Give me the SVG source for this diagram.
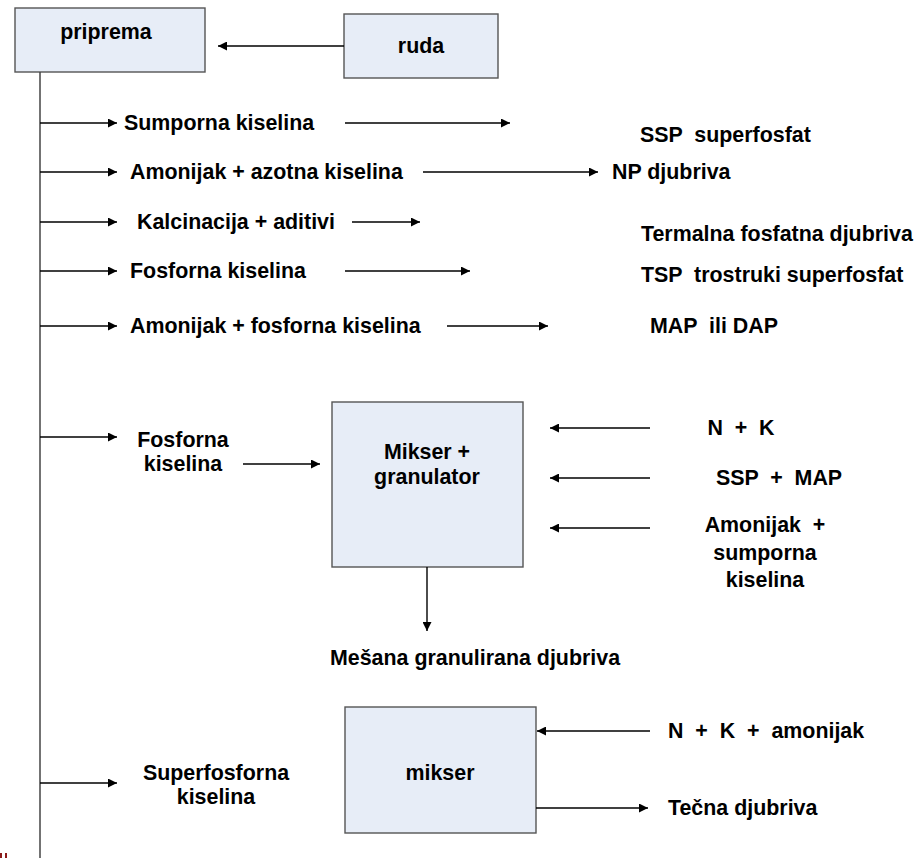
<svg xmlns="http://www.w3.org/2000/svg" width="918" height="858" viewBox="0 0 918 858">
<defs>
<style>
.box{fill:#E7EDF7;stroke:#555;stroke-width:1.4}
.t{font-family:"Liberation Sans",Arial,sans-serif;font-weight:bold;font-size:21.4px;fill:#000;white-space:pre}
.c{text-anchor:middle}
.ln{stroke:#000;stroke-width:1.4;fill:none;marker-end:url(#ah)}
.trunk{stroke:#444;stroke-width:1.5;fill:none}
</style>
<marker id="ah" viewBox="0 0 10 10" refX="10" refY="5" markerWidth="11" markerHeight="9" markerUnits="userSpaceOnUse" orient="auto">
<path d="M0,0 L10,5 L0,10 z" fill="#000"/>
</marker>
</defs>
<rect width="918" height="858" fill="#fff"/>

<g id="priprema"><rect class="box" x="15" y="8" width="190" height="64"/><text class="t c" x="106" y="39">priprema</text></g>
<g id="ruda"><rect class="box" x="344" y="14" width="154" height="64"/><text class="t c" x="421" y="53">ruda</text></g>
<g id="mikser-granulator"><rect class="box" x="332" y="402" width="191" height="165"/><text class="t c" x="427" y="459">Mikser +</text><text class="t c" x="427" y="484">granulator</text></g>
<g id="mikser"><rect class="box" x="345" y="707" width="191" height="126"/><text class="t c" x="440" y="780">mikser</text></g>

<g id="labels">
<text class="t" x="124" y="130">Sumporna kiselina</text>
<text class="t" x="130" y="179">Amonijak + azotna kiselina</text>
<text class="t" x="137" y="229">Kalcinacija + aditivi</text>
<text class="t" x="130" y="278">Fosforna kiselina</text>
<text class="t" x="130" y="333">Amonijak + fosforna kiselina</text>
<text class="t" x="640" y="142">SSP  superfosfat</text>
<text class="t" x="612" y="179">NP djubriva</text>
<text class="t" x="641" y="241">Termalna fosfatna djubriva</text>
<text class="t" x="641" y="282">TSP  trostruki superfosfat</text>
<text class="t" x="650" y="333">MAP  ili DAP</text>
<text class="t c" x="183" y="447">Fosforna</text>
<text class="t c" x="183" y="471">kiselina</text>
<text class="t c" x="741" y="435">N  +  K</text>
<text class="t c" x="779" y="485">SSP  +  MAP</text>
<text class="t c" x="765" y="532">Amonijak  +</text>
<text class="t c" x="765" y="560">sumporna</text>
<text class="t c" x="765" y="587">kiselina</text>
<text class="t" x="330" y="665">Mešana granulirana djubriva</text>
<text class="t" x="668" y="738">N  +  K  +  amonijak</text>
<text class="t" x="668" y="815">Tečna djubriva</text>
<text class="t c" x="216" y="780">Superfosforna</text>
<text class="t c" x="216" y="804">kiselina</text>
</g>

<g id="connectors">
<path class="trunk" d="M40,72 V858"/>
<path class="ln" d="M344,46 H218"/>
<path class="ln" d="M40,123 H117"/>
<path class="ln" d="M345,123 H510"/>
<path class="ln" d="M40,172 H117"/>
<path class="ln" d="M423,172 H598"/>
<path class="ln" d="M40,222 H117"/>
<path class="ln" d="M352,222 H420"/>
<path class="ln" d="M40,271 H117"/>
<path class="ln" d="M345,271 H470"/>
<path class="ln" d="M40,326 H117"/>
<path class="ln" d="M447,326 H548"/>
<path class="ln" d="M40,437 H117"/>
<path class="ln" d="M243,464 H320"/>
<path class="ln" d="M650,428 H550"/>
<path class="ln" d="M650,478 H550"/>
<path class="ln" d="M650,528 H550"/>
<path class="ln" d="M427,567 V631"/>
<path class="ln" d="M650,731 H537"/>
<path class="ln" d="M536,808 H648"/>
<path class="ln" d="M40,783 H117"/>
</g>
<g id="mark"><rect x="0" y="853" width="2" height="5" fill="#8B1A1A"/><rect x="5" y="853" width="2" height="5" fill="#8B1A1A"/></g>
</svg>
